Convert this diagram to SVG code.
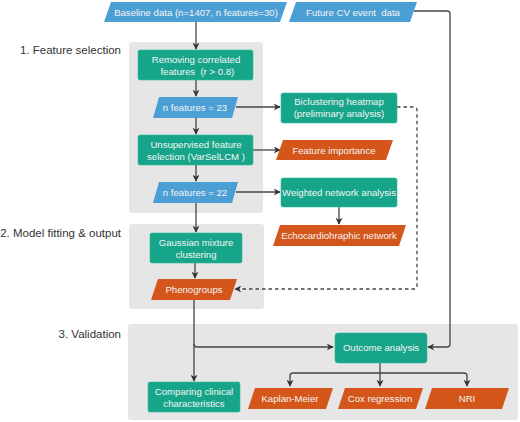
<svg xmlns="http://www.w3.org/2000/svg" width="520" height="422" viewBox="0 0 520 422">
<defs>
<style>
.panel{fill:#e6e6e6;}
.sec{font-family:"Liberation Sans",Arial,sans-serif;font-size:11.5px;fill:#333;}
.box{fill:#17a589;stroke:#2fb89c;stroke-width:0.6;}
.blue{fill:#4c9fd5;}
.orange{fill:#d4561a;}
.t{font-family:"Liberation Sans",Arial,sans-serif;font-size:9.6px;fill:#f4f4f4;text-anchor:middle;white-space:pre;}
.ln{fill:none;stroke:#444;stroke-width:1.3;}
.dash{fill:none;stroke:#444;stroke-width:1.3;stroke-dasharray:3.5,3;}
</style>
<marker id="ah" viewBox="0 0 10 10" refX="9" refY="5" markerWidth="7" markerHeight="7" markerUnits="userSpaceOnUse" orient="auto">
<path d="M0,0 L10,5 L0,10 L3,5 Z" fill="#333"/>
</marker>
</defs>
<rect width="520" height="422" fill="#ffffff"/>
<g id="panels">
<rect class="panel" x="129" y="42" width="134" height="171" rx="3"/>
<rect class="panel" x="129" y="224" width="135" height="85" rx="3"/>
<rect class="panel" x="128" y="324" width="390" height="96" rx="3"/>
<text class="sec" x="121" y="54" text-anchor="end">1. Feature selection</text>
<text class="sec" x="121" y="237" text-anchor="end">2. Model fitting &amp; output</text>
<text class="sec" x="121" y="338" text-anchor="end">3. Validation</text>
</g>
<g id="connectors">
<path class="ln" d="M196,22 V49" marker-end="url(#ah)"/>
<path class="ln" d="M196,80 V96" marker-end="url(#ah)"/>
<path class="ln" d="M196,118 V134" marker-end="url(#ah)"/>
<path class="ln" d="M196,165 V181" marker-end="url(#ah)"/>
<path class="ln" d="M196,203 V232" marker-end="url(#ah)"/>
<path class="ln" d="M195,263 V278" marker-end="url(#ah)"/>
<path class="ln" d="M236,107 H280" marker-end="url(#ah)"/>
<path class="ln" d="M253,150 H280" marker-end="url(#ah)"/>
<path class="ln" d="M236,192 H280" marker-end="url(#ah)"/>
<path class="ln" d="M339,207 V224" marker-end="url(#ah)"/>
<path class="dash" d="M397,107 H414 Q417,107 417,110 V286 Q417,289 414,289 H235" marker-end="url(#ah)"/>
<path class="ln" d="M414,11 H447 Q450,11 450,14 V344 Q450,347 447,347 H428" marker-end="url(#ah)"/>
<path class="ln" d="M194,300 V381" marker-end="url(#ah)"/>
<path class="ln" d="M194,344 Q194,347 197,347 H333" marker-end="url(#ah)"/>
<path class="ln" d="M380,363 V386" marker-end="url(#ah)"/>
<path class="ln" d="M380,373 H293 Q290,373 290,376 V386" marker-end="url(#ah)"/>
<path class="ln" d="M380,373 H464 Q467,373 467,376 V386" marker-end="url(#ah)"/>
</g>
<g id="baseline">
<polygon class="blue" points="111,2 287,2 280,22 104,22"/>
<text class="t" x="196" y="16">Baseline data (n=1407, n features=30)</text>
</g>
<g id="future">
<polygon class="blue" points="296,2 417,2 410,22 289,22"/>
<text class="t" x="353" y="16">Future CV event  data</text>
</g>
<g id="removing">
<rect class="box" x="138" y="50" width="115" height="30" rx="2"/>
<text class="t" x="196" y="63">Removing correlated</text>
<text class="t" x="196" y="75"> features  (r &gt; 0.8)</text>
</g>
<g id="nf23">
<polygon class="blue" points="159,97 238,97 232,118 153,118"/>
<text class="t" x="195" y="111">n features = 23</text>
</g>
<g id="bicluster">
<rect class="box" x="281" y="93" width="116" height="30" rx="2"/>
<text class="t" x="339" y="105">Biclustering heatmap</text>
<text class="t" x="339" y="117">(preliminary analysis)</text>
</g>
<g id="unsupervised">
<rect class="box" x="138" y="135" width="115" height="30" rx="2"/>
<text class="t" x="196" y="148">Unsupervised feature</text>
<text class="t" x="196" y="160">selection (VarSelLCM )</text>
</g>
<g id="featimp">
<polygon class="orange" points="283,140 393,140 386,160 276,160"/>
<text class="t" x="334" y="154">Feature importance</text>
</g>
<g id="nf22">
<polygon class="blue" points="159,182 238,182 232,203 153,203"/>
<text class="t" x="195" y="196">n features = 22</text>
</g>
<g id="weighted">
<rect class="box" x="281" y="178" width="116" height="29" rx="2"/>
<text class="t" x="339" y="196">Weighted network analysis</text>
</g>
<g id="echo">
<polygon class="orange" points="280,225 406,225 399,246 273,246"/>
<text class="t" x="339" y="239">Echocardiohraphic network</text>
</g>
<g id="gaussian">
<rect class="box" x="150" y="233" width="92" height="30" rx="2"/>
<text class="t" x="196" y="246">Gaussian mixture</text>
<text class="t" x="196" y="258">clustering</text>
</g>
<g id="phenogroups">
<polygon class="orange" points="158,279 237,279 230,300 151,300"/>
<text class="t" x="194" y="293">Phenogroups</text>
</g>
<g id="comparing">
<rect class="box" x="148" y="382" width="92" height="30" rx="2"/>
<text class="t" x="194" y="395">Comparing clinical</text>
<text class="t" x="194" y="407">characteristics</text>
</g>
<g id="outcome">
<rect class="box" x="335" y="333" width="92" height="30" rx="3"/>
<text class="t" x="381" y="351">Outcome analysis</text>
</g>
<g id="kaplan">
<polygon class="orange" points="255,388 333,388 326,409 248,409"/>
<text class="t" x="290" y="402">Kaplan-Meier</text>
</g>
<g id="cox">
<polygon class="orange" points="345,388 423,388 416,409 338,409"/>
<text class="t" x="380" y="402">Cox regression</text>
</g>
<g id="nri">
<polygon class="orange" points="432,388 509,388 502,409 425,409"/>
<text class="t" x="467" y="402">NRI</text>
</g>
</svg>
